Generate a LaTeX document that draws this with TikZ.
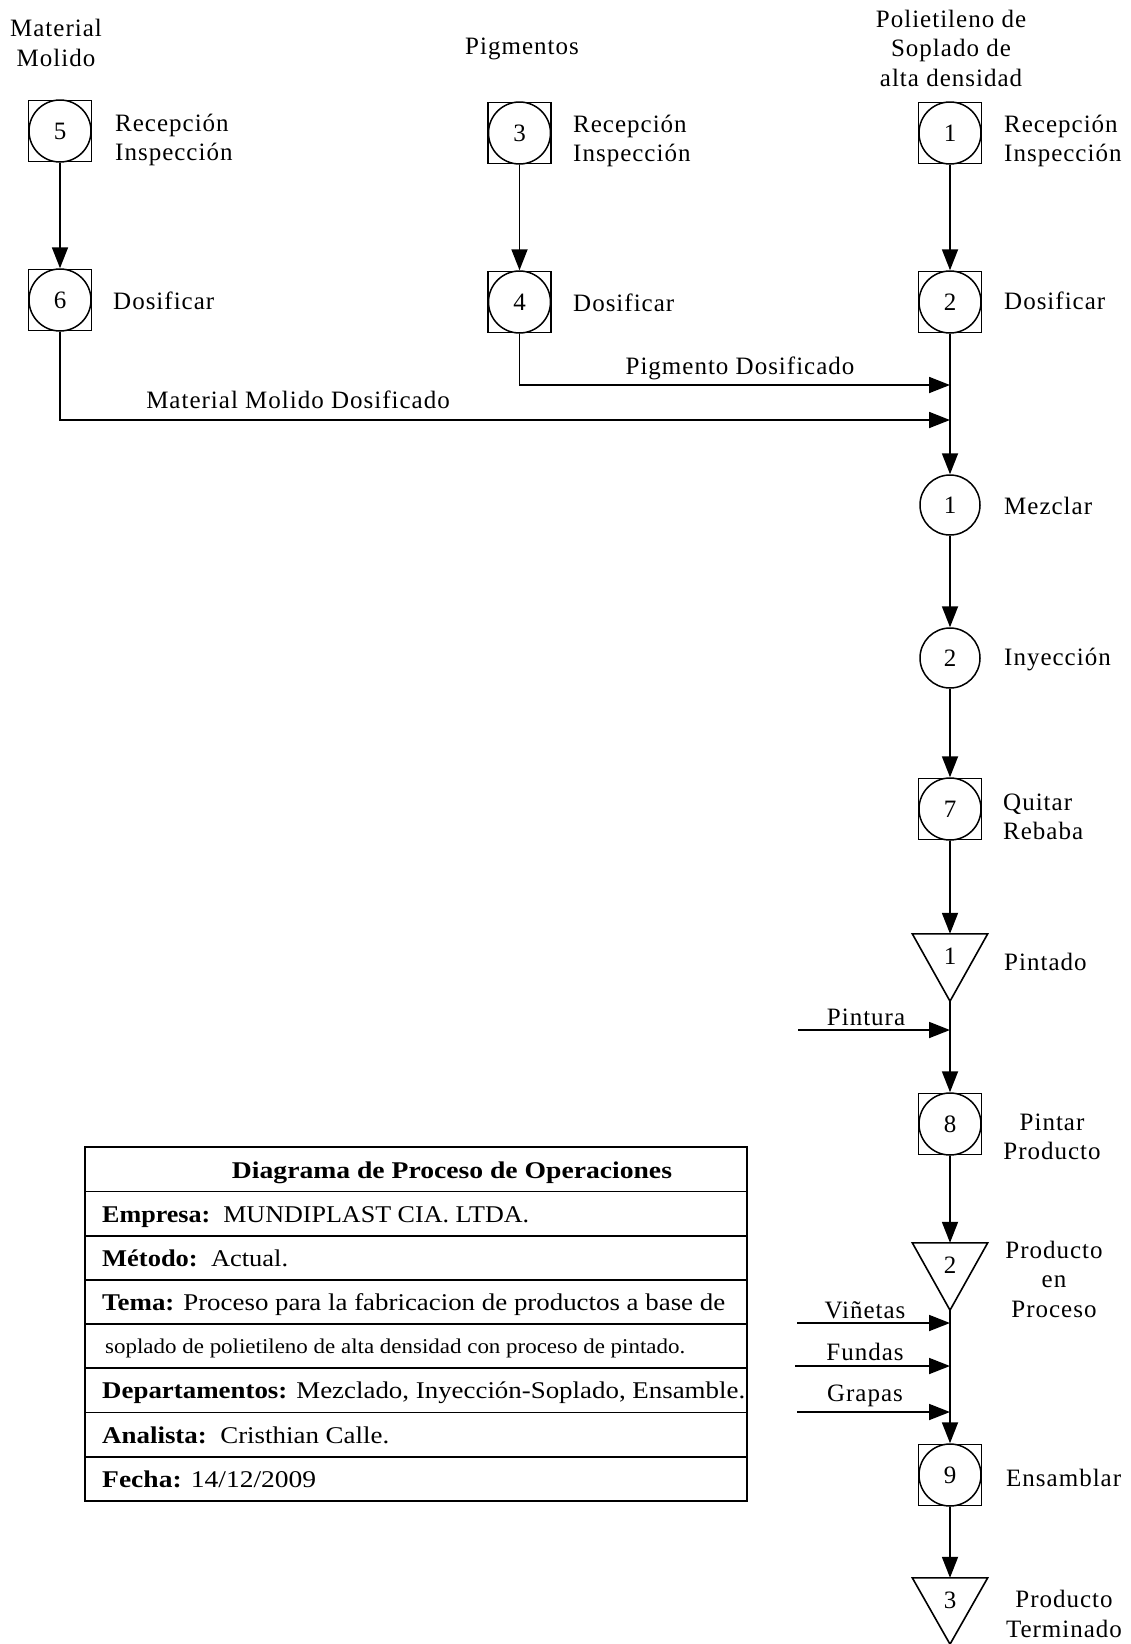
\documentclass[tikz,border=0pt]{standalone}
\usepackage{fontspec}
\usepackage{graphicx}
\setmainfont{Liberation Serif}
\newfontfamily\lblfont{Liberation Serif}[LetterSpace=4.0]
\usetikzlibrary{arrows.meta,calc}

\begin{document}
\begin{tikzpicture}[x=1pt,y=-1pt,
  lbl/.style={font=\lblfont\fontsize{25}{29.5}\selectfont, inner sep=0pt},
  op/.style={circle, draw, line width=1.5pt, minimum size=62pt, inner sep=0pt, font=\fontsize{25}{30}\selectfont},
  frame/.style={line width=1.3pt},
  tri/.style={minimum width=75pt, minimum height=67pt, inner sep=0pt},
  triline/.style={line width=1.6pt, line join=miter},
  num/.style={inner sep=0pt, font=\fontsize{25}{30}\selectfont},
  flow/.style={line width=1.8pt, -{Triangle[length=21pt,width=16pt]}},
  tab/.style={line width=1.8pt},
  cell/.style={inner sep=0pt, anchor=west, text height=16pt, text depth=0pt, font=\fontsize{24}{28}\selectfont}
]
\useasboundingbox (0,0) rectangle (1131,1644);

% ---- three feeding columns -------------------------------------------
\node[lbl, align=center] (hA) at (56,43) {Material\\Molido};
\node[lbl] (hB) at (522,49) {Pigmentos};
\node[lbl, align=center] (hC) at (951,48) {Polietileno de\\Soplado de\\alta densidad};

\node[op] (a1) at (60,131) {5};
\node[op] (a2) at (60,300) {6};
\node[op] (b1) at (519.5,133) {3};
\node[op] (b2) at (519.5,302) {4};
\node[op] (c1) at (950,133) {1};
\node[op] (c2) at (950,302) {2};

\node[lbl, anchor=west, align=left] (la1) at (115,140) {Recepción\\Inspección};
\node[lbl, anchor=west] (la2) at (113,301) {Dosificar};
\node[lbl, anchor=west, align=left] (lb1) at (573,141) {Recepción\\Inspección};
\node[lbl, anchor=west] (lb2) at (573,303) {Dosificar};
\node[lbl, anchor=west, align=left] (lc1) at (1004,141) {Recepción\\Inspección};
\node[lbl, anchor=west] (lc2) at (1004,301) {Dosificar};

% ---- main line --------------------------------------------------------
\node[op, minimum size=60pt] (m1) at (950,505) {1};
\node[op, minimum size=60pt] (m2) at (950,658) {2};
\node[op] (q7) at (950,809) {7};
\node[tri] (t1) at (950,967.5) {};
\node[op] (p8) at (950,1124) {8};
\node[tri] (t2) at (950,1276.5) {};
\node[op] (e9) at (950,1475) {9};
\node[tri, minimum height=66pt] (t3) at (950,1611) {};

\node[num] (n1) at ($(t1.center)+(0,-11)$) {1};
\node[num] (n2) at ($(t2.center)+(0,-11.5)$) {2};
\node[num] (n3) at ($(t3.center)+(0,-11)$) {3};

\foreach \t in {t1,t2,t3}
  \draw[triline] (\t.north west) -- (\t.north east) -- (\t.south) -- cycle;

\foreach \n in {a1,a2,b1,b2,c1,c2,q7,p8,e9}
  \draw[frame] ([shift={(-31.5,-30.5)}]\n.center) rectangle ([shift={(31.5,30.5)}]\n.center);

\node[lbl, anchor=west] (lm1) at (1004,506) {Mezclar};
\node[lbl, anchor=west] (lm2) at (1004,659) {Inyección};
\node[lbl, anchor=west, align=left] (lq7) at (1003,817) {Quitar\\Rebaba};
\node[lbl, anchor=west] (lt1) at (1004,962) {Pintado};
\node[lbl, align=center] (lp8) at (1052,1137) {Pintar\\Producto};
\node[lbl, align=center] (lt2) at (1054,1279) {Producto\\en\\Proceso};
\node[lbl, anchor=west] (le9) at (1006,1478) {Ensamblar};
\node[lbl, align=center] (lt3) at (1064,1614) {Producto\\Terminado};

% ---- joins and side inputs ---------------------------------------------
\coordinate (jp) at (950,385);
\coordinate (jm) at (950,420);
\coordinate (pin0) at (798,1030);
\coordinate (pin1) at (950,1030);
\coordinate (vin0) at (797,1323);
\coordinate (vin1) at (950,1323);
\coordinate (fun0) at (795,1366);
\coordinate (fun1) at (950,1366);
\coordinate (gra0) at (797,1412);
\coordinate (gra1) at (950,1412);

\draw[flow] (a1) -- (a2);
\draw[flow] (b1) -- (b2);
\draw[flow] (c1) -- (c2);
\draw[flow] (c2) -- (m1);
\draw[flow] (b2) |- (jp);
\draw[flow] (a2) |- (jm);
\draw[flow] (m1) -- (m2);
\draw[flow] (m2) -- (q7);
\draw[flow] (q7) -- (t1.north);
\draw[flow] (t1.south) -- (p8);
\draw[flow] (pin0) -- (pin1);
\draw[flow] (p8) -- (t2.north);
\draw[flow] (t2.south) -- (e9);
\draw[flow] (vin0) -- (vin1);
\draw[flow] (fun0) -- (fun1);
\draw[flow] (gra0) -- (gra1);
\draw[flow] (e9) -- (t3.north);

\node[lbl] (lpd) at (740,368) {Pigmento Dosificado};
\node[lbl] (lmd) at (298,400) {Material Molido Dosificado};
\node[lbl] (lpin) at (866,1017) {Pintura};
\node[lbl] (lvin) at (865,1310) {Viñetas};
\node[lbl] (lfun) at (865,1352) {Fundas};
\node[lbl] (lgra) at (865,1396) {Grapas};

% ---- data sheet ----------------------------------------------------------
\draw[tab] (85,1147) rectangle (747,1501);
\foreach \y in {1191.5,1236,1280,1324,1368,1412.5,1457}
  \draw[tab] (85,\y) -- (747,\y);

\node[cell, anchor=center] (r0) at (452,1170) {\resizebox{440pt}{\height}{\textbf{Diagrama de Proceso de Operaciones}}};
\node[cell] (r1) at (102,1214) {\resizebox{427pt}{\height}{\textbf{Empresa:}\ \ MUNDIPLAST CIA. LTDA.}};
\node[cell] (r2) at (102,1258) {\resizebox{186pt}{\height}{\textbf{Método:}\ \ Actual.}};
\node[cell] (r3) at (102,1302) {\resizebox{623pt}{\height}{\textbf{Tema:} Proceso para la fabricacion de productos a base de}};
\node[cell, font=\fontsize{21}{25}\selectfont, text height=14pt] (r4) at (105,1346) {\resizebox{580pt}{\height}{soplado de polietileno de alta densidad con proceso de pintado.}};
\node[cell] (r5) at (102,1390) {\resizebox{643pt}{\height}{\textbf{Departamentos:} Mezclado, Inyección-Soplado, Ensamble.}};
\node[cell] (r6) at (102,1435) {\resizebox{287pt}{\height}{\textbf{Analista:}\ \ Cristhian Calle.}};
\node[cell] (r7) at (102,1479) {\resizebox{214pt}{\height}{\textbf{Fecha:} 14/12/2009}};
\end{tikzpicture}
\end{document}
